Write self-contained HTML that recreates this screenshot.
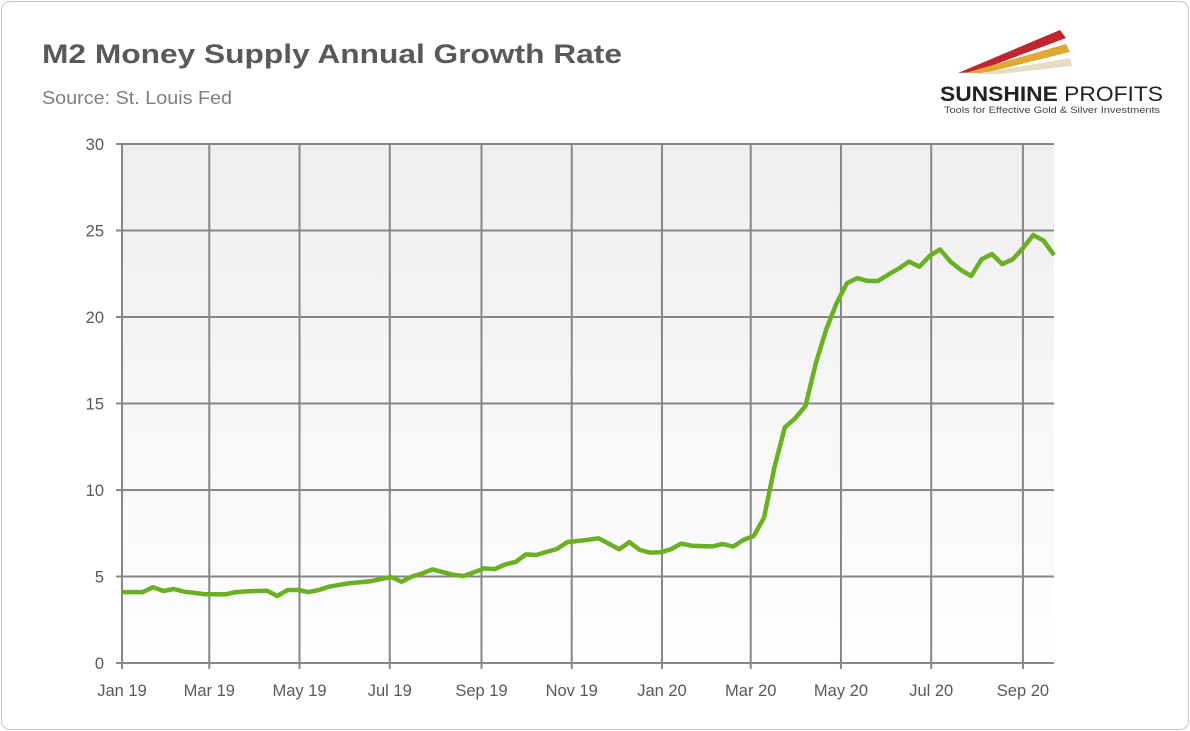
<!DOCTYPE html>
<html><head><meta charset="utf-8"><style>
body{margin:0;background:#fff;width:1190px;height:731px;overflow:hidden;font-family:"Liberation Sans",sans-serif}
#card{position:absolute;left:1px;top:1px;width:1186px;height:727px;border:1px solid #c8c8c8;border-radius:9px;background:#fff}
</style></head><body>
<div id="card"></div>
<svg id="chart" width="1190" height="731" style="position:absolute;left:0;top:0">
<defs>
<linearGradient id="bg" x1="0" y1="0" x2="0" y2="1"><stop offset="0" stop-color="#efefef"/><stop offset="1" stop-color="#fefefe"/></linearGradient>
</defs>
<text x="42" y="63" font-size="27" font-weight="bold" fill="#595959" textLength="580" lengthAdjust="spacingAndGlyphs">M2 Money Supply Annual Growth Rate</text>
<text x="42" y="104" font-size="18" fill="#7f7f7f" textLength="190" lengthAdjust="spacingAndGlyphs">Source: St. Louis Fed</text>
<g>
<polygon points="958,73 1060,30 1066,38 975,72" fill="#c0272d"/>
<polygon points="965,73 1066,44 1070,52 985,73" fill="#e0a834"/>
<polygon points="975,74 1070,58 1072,66 1000,74" fill="#e6dcc4"/>
<text x="940" y="101" font-size="21" font-weight="bold" fill="#222" textLength="223" lengthAdjust="spacingAndGlyphs">SUNSHINE <tspan font-weight="normal">PROFITS</tspan></text>
<text x="944" y="113" font-size="9" fill="#444" textLength="216" lengthAdjust="spacingAndGlyphs">Tools for Effective Gold &amp; Silver Investments</text>
</g>
<rect x="122" y="144" width="932" height="519" fill="url(#bg)"/>
<g id="grid"></g><g id="axes"></g><g id="series"></g>
</svg>
<script>
const values=[4.10,4.10,4.10,4.38,4.16,4.28,4.12,4.05,3.97,3.97,3.97,4.10,4.14,4.16,4.18,3.87,4.22,4.22,4.10,4.22,4.41,4.52,4.62,4.67,4.72,4.85,4.97,4.70,5.00,5.18,5.41,5.25,5.10,5.03,5.25,5.47,5.43,5.70,5.84,6.28,6.24,6.42,6.59,6.99,7.05,7.12,7.21,6.90,6.57,6.99,6.53,6.38,6.40,6.57,6.90,6.78,6.76,6.74,6.88,6.73,7.11,7.34,8.40,11.3,13.62,14.14,14.86,17.32,19.28,20.79,21.95,22.25,22.08,22.08,22.45,22.8,23.2,22.91,23.53,23.91,23.2,22.72,22.37,23.33,23.64,23.06,23.33,23.97,24.74,24.41,23.58];
const xTickLabels=["Jan 19","Mar 19","May 19","Jul 19","Sep 19","Nov 19","Jan 20","Mar 20","May 20","Jul 20","Sep 20"];
const xTickDays=[0,59,120,181,243,304,365,425,486,547,609];
const yTicks=[0,5,10,15,20,25,30];
const daysPerPoint=7;
const NS="http://www.w3.org/2000/svg";
const X0=122,X1=1054,Y0=663,Y1=144,DAYMAX=630,YMAX=30;
function x(d){return X0+d*(X1-X0)/DAYMAX;}
function y(v){return Y0-v*(Y0-Y1)/YMAX;}
function mk(tag,attrs,parent){const e=document.createElementNS(NS,tag);for(const k in attrs)e.setAttribute(k,attrs[k]);parent.appendChild(e);return e;}
const grid=document.getElementById('grid'),axes=document.getElementById('axes'),series=document.getElementById('series');
yTicks.forEach(v=>{
  const l=mk('line',{x1:116,x2:X1,y1:y(v),y2:y(v),stroke:'#878787','stroke-width':2},grid);
  
  
  const t=mk('text',{x:104,y:y(v)+6,'text-anchor':'end','font-size':16.5,fill:'#595959'},axes);
  t.textContent=v;
  
  
});
xTickDays.forEach((d,i)=>{
  const l=mk('line',{x1:x(d),x2:x(d),y1:Y1,y2:Y0+6,stroke:'#878787','stroke-width':2},grid);
  
  
  const t=mk('text',{x:x(d),y:696,'text-anchor':'middle','font-size':16.5,fill:'#595959'},axes);
  t.textContent=xTickLabels[i];
  
  
});
const pts=values.map((v,i)=>x(i*daysPerPoint).toFixed(1)+','+y(v).toFixed(1)).join(' ');
const line=mk('polyline',{points:pts,fill:'none',stroke:'#6ab023','stroke-width':4.5,'stroke-linejoin':'round'},series);


</script>
</body></html>
